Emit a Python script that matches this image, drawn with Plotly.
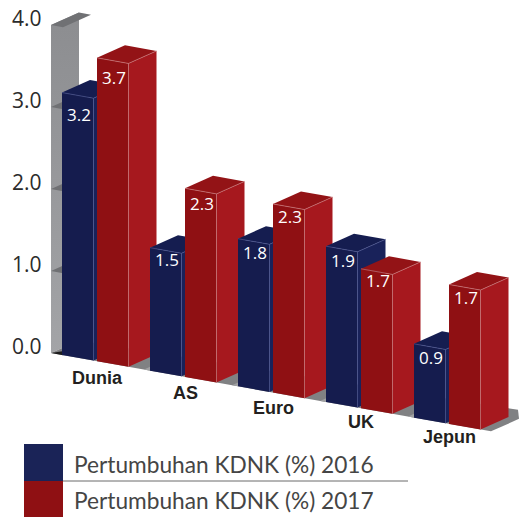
import plotly.graph_objects as go

categories = ["Dunia", "AS", "Euro", "UK", "Jepun"]
values_2016 = [3.2, 1.5, 1.8, 1.9, 0.9]
values_2017 = [3.7, 2.3, 2.3, 1.7, 1.7]
series_names = ["Pertumbuhan KDNK (%) 2016", "Pertumbuhan KDNK (%) 2017"]
y_ticks = [0.0, 1.0, 2.0, 3.0, 4.0]

# oblique projection
X0, Y0 = 62.0, 355.0      # front-left foot of first bar
STEP = 88.0               # pixels per category
SLOPE = 0.178             # fall of the x axis
UNIT = 82.0               # pixels per value unit
BAR_W = 31.5
GROUP_OFF = 35.0
DX, DY = 28.0, -12.5      # depth vector

# distance of each value label below the bar's top edge, per category
LABEL_DROP_2016 = [19, 9, 11, 11, 11]
LABEL_DROP_2017 = [17, 12, 9, 9, 10]


def pt(x, v=0.0, d=0.0):
    return (x + DX * d, Y0 + SLOPE * (x - X0) - UNIT * v + DY * d)


def poly(points, color, gradient=None):
    xs = [p[0] for p in points] + [points[0][0]]
    ys = [p[1] for p in points] + [points[0][1]]
    kw = dict(fillcolor=color)
    if gradient:
        kw = dict(fillgradient=gradient)
    return go.Scatter(x=xs, y=ys, mode="lines", fill="toself", line=dict(width=0),
                      hoverinfo="skip", showlegend=False, **kw)


def edge(points, color, width=0.7):
    return go.Scatter(x=[p[0] for p in points], y=[p[1] for p in points], mode="lines",
                      line=dict(color=color, width=width), hoverinfo="skip", showlegend=False)


PAL = {
    2016: dict(front="#151c4e", side="#19225a", top="#151d50", edge="#4a5590"),
    2017: dict(front="#8f1013", side="#a6181e", top="#931316", edge="#c9777a"),
}

fig = go.Figure()
XW = 51.0  # wall x
XEND = 491.0

# wall
fig.add_trace(poly([pt(XW, 0), pt(XW, 4), pt(XW, 4, 1), pt(XW, 0, 1)], "#96979a",
                   gradient=dict(type="vertical",
                                 colorscale=[[0, "#a3a4a7"], [1, "#8c8d90"]])))
# floor
end_front = pt(XEND, 0)
end_back = pt(XEND, 0, 1)
fig.add_trace(poly([pt(XW, 0), end_front, end_back,
                    (end_back[0] - 1, end_back[1] - 9), pt(XW, 0, 1)], "#808183"))
for i in range(1, len(categories)):
    gx = X0 + STEP * i
    fig.add_trace(poly([pt(gx - 6, 0), pt(gx, 0), pt(gx, 0, 1), pt(gx - 6, 0, 1)], "#a0a1a3"))
# level slabs
for t in y_ticks[1:]:
    fig.add_trace(poly([pt(XW, t), pt(XW + 12, t), pt(XW + 12, t, 1), pt(XW, t, 1)], "#707174"))
fig.add_trace(poly([pt(XW, 0), pt(XW + 12, 0), pt(XW + 12, 0, 0.5)], "#1c1c1c"))

for i, cat in enumerate(categories):
    for yr, vals, drops, off in ((2016, values_2016, LABEL_DROP_2016, 0.0),
                                 (2017, values_2017, LABEL_DROP_2017, GROUP_OFF)):
        v = vals[i]
        x = X0 + STEP * i + off
        c = PAL[yr]
        r = x + BAR_W
        fig.add_trace(poly([pt(r, 0), pt(r, v), pt(r, v, 1), pt(r, 0, 1)], c["side"]))
        fig.add_trace(poly([pt(x, v), pt(r, v), pt(r, v, 1), pt(x, v, 1)], c["top"]))
        fig.add_trace(poly([pt(x, 0), pt(r, 0), pt(r, v), pt(x, v)], c["front"]))
        fig.add_trace(edge([pt(x, v), pt(r, v), pt(r, 0)], c["edge"]))
        fig.add_trace(edge([pt(r, v), pt(r, v, 1)], c["edge"]))
        lx, ly = pt(x + BAR_W / 2 + 1.5, v)
        fig.add_annotation(x=lx, y=ly + drops[i], text=f"{v:.1f}", showarrow=False,
                           font=dict(family="Open Sans", size=17, color="#ffffff"))
    cx, cy = pt(X0 + STEP * i + 35)
    fig.add_annotation(x=cx, y=cy + 17 - i, text=f"<b>{cat}</b>", showarrow=False,
                       font=dict(family="Liberation Sans", size=18, color="#231f20"))

for t in y_ticks:
    tx, ty = pt(XW, t)
    fig.add_annotation(x=44, y=ty - 7, text=f"{t:.1f}", showarrow=False, xanchor="right",
                       font=dict(family="Open Sans", size=21, color="#2b2b2b"))

# legend
for k, (name, col, y0, y1) in enumerate(zip(series_names, ["#1a2357", PAL[2017]["front"]],
                                            [444, 481], [481, 517])):
    fig.add_shape(type="rect", x0=24, x1=63, y0=y0, y1=y1, fillcolor=col, line_width=0)
    fig.add_annotation(x=72, y=(y0 + y1) / 2 + (2 if k == 0 else 1), text=name,
                       showarrow=False, xanchor="left",
                       font=dict(family="Lato", size=22.7, color="#454545"))
fig.add_shape(type="line", x0=63, x1=408, y0=481, y1=481, line=dict(color="#6a6a6a", width=1))

fig.update_layout(
    width=521, height=517, margin=dict(l=0, r=0, t=0, b=0), autosize=False,
    plot_bgcolor="#ffffff", paper_bgcolor="#ffffff", showlegend=False,
    xaxis=dict(range=[0, 521], visible=False, fixedrange=True),
    yaxis=dict(range=[517, 0], visible=False, fixedrange=True),
)
fig.write_html("out.html", config=dict(displayModeBar=False),
               post_script="document.body.style.margin='0';document.body.style.overflow='hidden';")
